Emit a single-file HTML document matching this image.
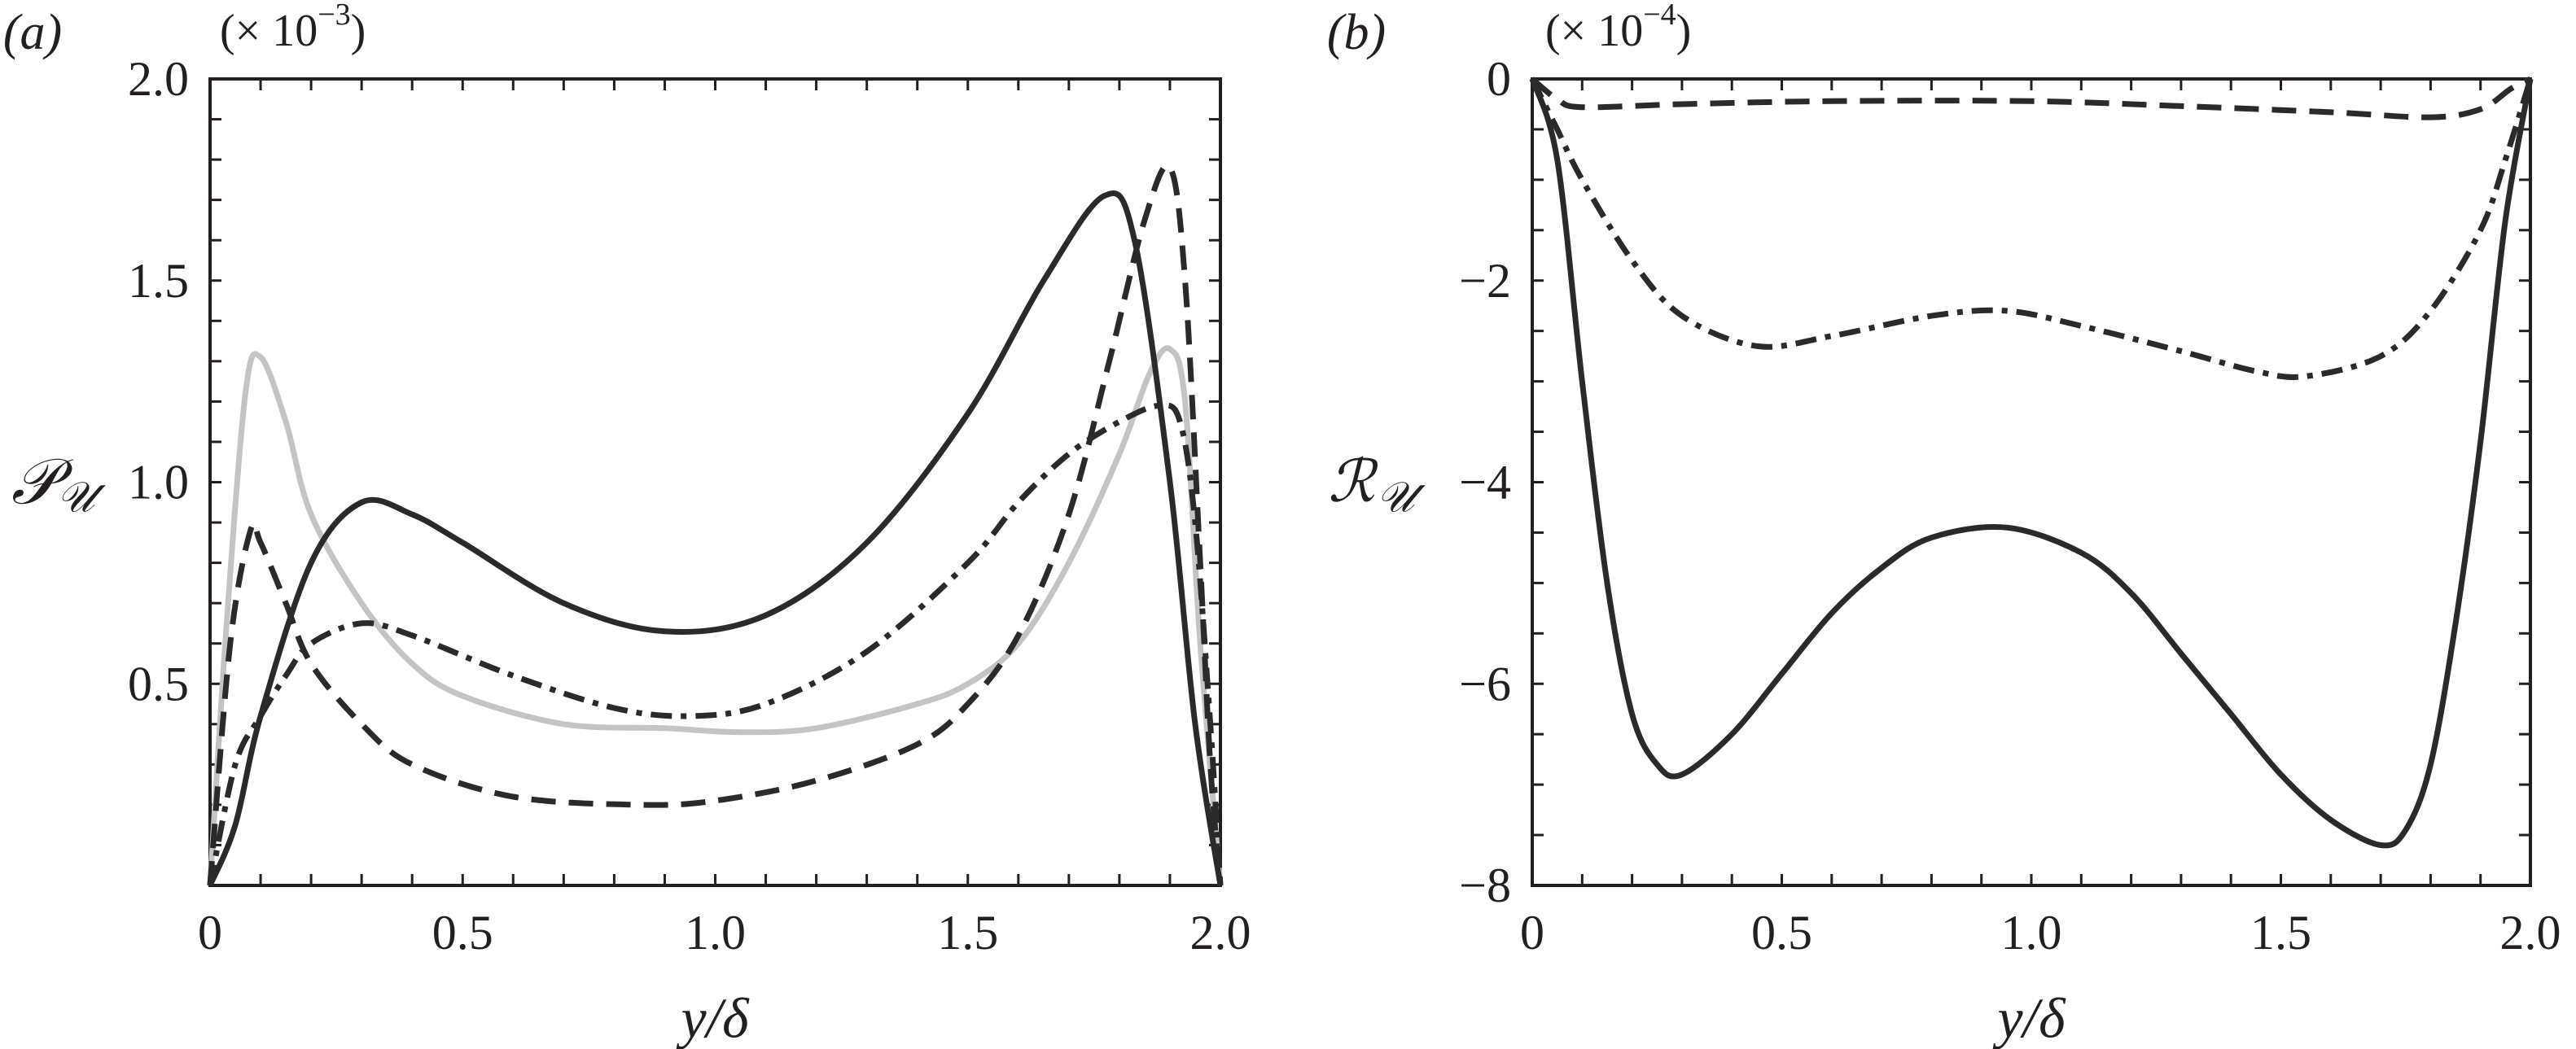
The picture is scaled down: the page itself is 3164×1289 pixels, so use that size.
<!DOCTYPE html>
<html><head><meta charset="utf-8"><style>
html,body{margin:0;padding:0;background:#fff;}
svg{display:block;}
</style></head><body>
<svg id="fig" width="3164" height="1289" viewBox="0 0 3164 1289" xmlns="http://www.w3.org/2000/svg"></svg>
<script>
// ---- data (panel a, values x1e-3) ----
const aSolidX=[0,0.05,0.1,0.2,0.3,0.4,0.5,0.7,0.9,1.1,1.3,1.5,1.65,1.77,1.83,1.9,1.95,2.0];
const aSolidY=[0,0.15,0.42,0.8,0.95,0.92,0.85,0.7,0.63,0.67,0.85,1.17,1.5,1.71,1.6,1.0,0.4,0];
const aGrayX=[0,0.03,0.07,0.1,0.15,0.2,0.3,0.4,0.5,0.7,0.9,1.05,1.2,1.4,1.5,1.6,1.7,1.8,1.86,1.9,1.93,1.96,2.0];
const aGrayY=[0,0.6,1.22,1.31,1.15,0.92,0.7,0.55,0.47,0.4,0.39,0.38,0.39,0.45,0.5,0.6,0.8,1.07,1.27,1.33,1.2,0.6,0];
const aDashX=[0,0.04,0.08,0.1,0.15,0.2,0.3,0.4,0.6,0.85,1.0,1.2,1.4,1.5,1.6,1.7,1.78,1.85,1.9,1.93,1.96,1.98,2.0];
const aDashY=[0,0.6,0.88,0.85,0.7,0.55,0.4,0.3,0.22,0.2,0.21,0.26,0.35,0.45,0.62,0.92,1.3,1.65,1.78,1.5,0.8,0.3,0];
const aDotX=[0,0.05,0.1,0.15,0.2,0.3,0.4,0.6,0.8,0.95,1.1,1.3,1.5,1.6,1.7,1.8,1.88,1.92,1.95,1.98,2.0];
const aDotY=[0,0.3,0.42,0.52,0.6,0.65,0.62,0.52,0.44,0.42,0.45,0.58,0.8,0.95,1.07,1.15,1.19,1.15,0.9,0.4,0];
// ---- data (panel b, values x1e-4) ----
const bSolidX=[0,0.05,0.1,0.15,0.2,0.25,0.3,0.4,0.5,0.6,0.7,0.8,0.95,1.1,1.2,1.3,1.4,1.5,1.6,1.7,1.75,1.8,1.85,1.9,1.95,2.0];
const bSolidY=[0,-0.8,-3,-5,-6.3,-6.8,-6.9,-6.5,-5.9,-5.3,-4.85,-4.55,-4.45,-4.7,-5.1,-5.7,-6.3,-6.9,-7.35,-7.6,-7.45,-6.8,-5.4,-3.6,-1.4,0];
const bDotX=[0,0.05,0.1,0.2,0.3,0.45,0.6,0.8,0.95,1.1,1.3,1.45,1.55,1.7,1.8,1.9,1.95,2.0];
const bDotY=[0,-0.5,-1.0,-1.8,-2.35,-2.65,-2.55,-2.35,-2.3,-2.45,-2.7,-2.9,-2.95,-2.75,-2.3,-1.5,-0.8,0];
const bDashX=[0,0.05,0.1,0.3,0.6,1.0,1.3,1.6,1.8,1.9,1.96,2.0];
const bDashY=[0,-0.2,-0.28,-0.25,-0.22,-0.22,-0.27,-0.33,-0.38,-0.3,-0.1,0];
const xTicks=["0","0.5","1.0","1.5","2.0"];
const aYTicks=["0.5","1.0","1.5","2.0"];
const bYTicks=["0","\u22122","\u22124","\u22126","\u22128"];

const NS="http://www.w3.org/2000/svg";
const svg=document.getElementById('fig');
const FONT='"Liberation Serif", "DejaVu Serif", serif';
function mk(tag,attrs,parent){const e=document.createElementNS(NS,tag);for(const k in attrs)e.setAttribute(k,attrs[k]);(parent||svg).appendChild(e);return e;}
function txt(s,x,y,size,anchor,parent,italic){const t=mk('text',{x:x,y:y,'font-size':size,'text-anchor':anchor||'middle','dominant-baseline':'central','font-family':FONT,fill:'#231f20'},parent);if(italic)t.setAttribute('font-style','italic');t.textContent=s;return t;}

function panel(name,L,R,T,B,xmin,xmax,ymin,ymax){
  const g=mk('g',{});
  
  
  const sx=v=>L+(v-xmin)/(xmax-xmin)*(R-L);
  const sy=v=>B-(v-ymin)/(ymax-ymin)*(B-T);
  return {g,sx,sy,L,R,T,B};
}
function frame(p,xminor,yminor){
  const f=mk('rect',{x:p.L,y:p.T,width:p.R-p.L,height:p.B-p.T,fill:'none',stroke:'#231f20','stroke-width':4},p.g);
  
  
  const tl=14;
  for(const v of xminor){const x=p.sx(v);
    mk('line',{x1:x,y1:p.B,x2:x,y2:p.B-tl,stroke:'#231f20','stroke-width':3},p.g);
    mk('line',{x1:x,y1:p.T,x2:x,y2:p.T+tl,stroke:'#231f20','stroke-width':3},p.g);}
  for(const v of yminor){const y=p.sy(v);
    mk('line',{x1:p.L,y1:y,x2:p.L+tl,y2:y,stroke:'#231f20','stroke-width':3},p.g);
    mk('line',{x1:p.R,y1:y,x2:p.R-tl,y2:y,stroke:'#231f20','stroke-width':3},p.g);}
}
function curvePath(xs,ys,p){
  const P=xs.map((x,i)=>[p.sx(x),p.sy(ys[i])]);
  let d='M'+P[0][0].toFixed(1)+','+P[0][1].toFixed(1);
  for(let i=0;i<P.length-1;i++){
    const p0=P[Math.max(i-1,0)],p1=P[i],p2=P[i+1],p3=P[Math.min(i+2,P.length-1)];
    const c1=[p1[0]+(p2[0]-p0[0])/6,p1[1]+(p2[1]-p0[1])/6];
    const c2=[p2[0]-(p3[0]-p1[0])/6,p2[1]-(p3[1]-p1[1])/6];
    d+=' C'+c1[0].toFixed(1)+','+c1[1].toFixed(1)+' '+c2[0].toFixed(1)+','+c2[1].toFixed(1)+' '+p2[0].toFixed(1)+','+p2[1].toFixed(1);
  }
  return d;
}
function series(p,xs,ys,stroke,dash,name){
  const e=mk('path',{d:curvePath(xs,ys,p),fill:'none',stroke:stroke,'stroke-width':7,'stroke-linejoin':'round'},p.g);
  if(dash)e.setAttribute('stroke-dasharray',dash);
  
  
}
function scaleFactor(x,exp,parent){
  const t=mk('text',{x:x,y:38,'font-size':56,'dominant-baseline':'central','font-family':FONT,fill:'#231f20'},parent);
  
  
  const a=mk('tspan',{},t);a.textContent='(\u00d7 10';
  const b=mk('tspan',{'font-size':38,dy:-20},t);b.textContent=exp;
  const c=mk('tspan',{dy:20},t);c.textContent=')';
}
const xminor=[];for(let i=0;i<=20;i++)xminor.push(i*0.1);

// Panel a
const pa=panel('panel-a',258,1499,97,1088,0,2,0,2);
const aminor=[];for(let i=1;i<20;i++)aminor.push(i*0.1);
frame(pa,xminor,aminor);
series(pa,aGrayX,aGrayY,'#c4c4c4',null,'series-gray-solid');
series(pa,aDashX,aDashY,'#2a2a2a','30 16','series-dashed');
series(pa,aDotX,aDotY,'#2a2a2a','26 11 7 11','series-dash-dot');
series(pa,aSolidX,aSolidY,'#2a2a2a',null,'series-solid');
xTicks.forEach((s,i)=>{const t=txt(s,pa.sx(i*0.5),1146,60,'middle',pa.g);});
aYTicks.forEach((s,i)=>{const t=txt(s,232,pa.sy(0.5+i*0.5),60,'end',pa.g);});
let t;
t=txt('(a)',40,40,62,'middle',pa.g,true);
scaleFactor(270,'\u22123',pa.g);
t=txt('\ud835\udcab',42,592,78,'middle',pa.g,true);
t=txt('\ud835\udcb0',93,612,52,'middle',pa.g,true);
t=txt('y/\u03b4',878,1252,70,'middle',pa.g,true);

// Panel b
const pb=panel('panel-b',1882,3108,97,1088,0,2,-8,0);
const bminor=[];for(let i=1;i<16;i++)bminor.push(-i*0.5);
frame(pb,xminor,bminor);
series(pb,bDashX,bDashY,'#2a2a2a','30 16','series-dashed');
series(pb,bDotX,bDotY,'#2a2a2a','26 11 7 11','series-dash-dot');
series(pb,bSolidX,bSolidY,'#2a2a2a',null,'series-solid');
xTicks.forEach((s,i)=>{const t=txt(s,pb.sx(i*0.5),1146,60,'middle',pb.g);});
bYTicks.forEach((s,i)=>{const t=txt(s,1856,pb.sy(-2*i),60,'end',pb.g);});
t=txt('(b)',1666,40,62,'middle',pb.g,true);
scaleFactor(1898,'\u22124',pb.g);
t=txt('\u211b',1660,592,72,'middle',pb.g,true);
t=txt('\ud835\udcb0',1714,612,52,'middle',pb.g,true);
t=txt('y/\u03b4',2495,1252,70,'middle',pb.g,true);
</script>
</body></html>
